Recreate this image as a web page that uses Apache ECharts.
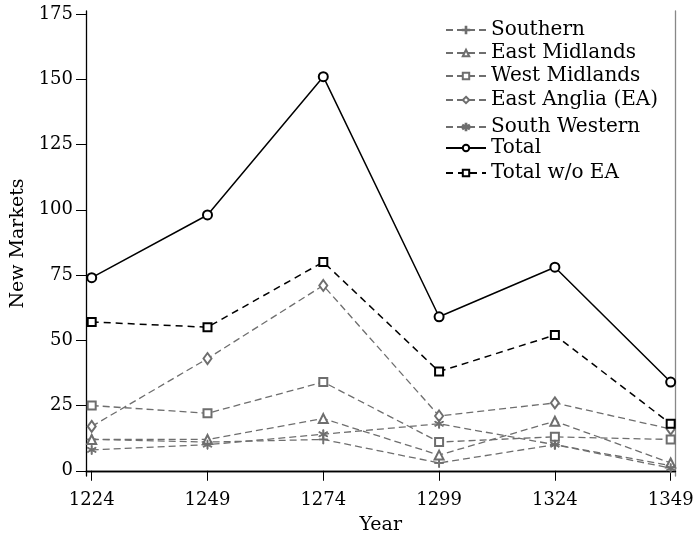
<!DOCTYPE html>
<html><head><meta charset="utf-8">
<script src="https://cdn.jsdelivr.net/npm/echarts@6/dist/echarts.min.js"></script>
<style>html,body{margin:0;padding:0;background:#fff}#c{width:694px;height:538px}</style>
</head><body><div id="c"></div>
<script>
const years = [1224, 1249, 1274, 1299, 1324, 1349];
const southern = [12, 11, 12, 3, 10, 2];
const eastMidlands = [12, 12, 20, 6, 19, 3];
const westMidlands = [25, 22, 34, 11, 13, 12];
const eastAnglia = [17, 43, 71, 21, 26, 16];
const southWestern = [8, 10, 14, 18, 10, 1];
const total = [74, 98, 151, 59, 78, 34];
const totalWoEA = [57, 55, 80, 38, 52, 18];
const yTicks = [0, 25, 50, 75, 100, 125, 150, 175];
const seriesNames = ['Southern', 'East Midlands', 'West Midlands', 'East Anglia (EA)', 'South Western', 'Total', 'Total w/o EA'];

const FONT = 'DejaVu Serif';
const GRAY = '#6e6e6e';
const plusPath = 'path://M4.5,0H5.5V4.5H10V5.5H5.5V10H4.5V5.5H0V4.5H4.5Z';
const starPath = 'path://M4.5,0L5.5,0L5.5,10L4.5,10Z M0.42,2.93L0.92,2.07L9.58,7.07L9.08,7.93Z M0.92,7.93L0.42,7.07L9.08,2.07L9.58,2.93Z';

function pairs(vals){ return years.map((y,i)=>[y, vals[i]]); }

const regional = [
  {name: seriesNames[0], data: southern, symbol: plusPath, size: 9},
  {name: seriesNames[1], data: eastMidlands, symbol: 'emptyTriangle', size: 9},
  {name: seriesNames[2], data: westMidlands, symbol: 'emptyRect', size: 8},
  {name: seriesNames[3], data: eastAnglia, symbol: 'emptyDiamond', size: [8, 11]},
  {name: seriesNames[4], data: southWestern, symbol: starPath, size: 9}
];

const series = regional.map(r => ({
  name: r.name, type: 'line', data: pairs(r.data),
  symbol: r.symbol, symbolSize: r.size, showAllSymbol: true,
  itemStyle: {color: GRAY, borderColor: GRAY, borderWidth: 1},
  lineStyle: {color: GRAY, width: 1.3, type: [7, 4]},
  z: 2, animation: false
}));
series.push({
  name: seriesNames[5], type: 'line', data: pairs(total),
  symbol: 'emptyCircle', symbolSize: 9,
  itemStyle: {color: '#000', borderColor: '#000', borderWidth: 1.4},
  lineStyle: {color: '#000', width: 1.5, type: 'solid'}, z: 4, animation: false
});
series.push({
  name: seriesNames[6], type: 'line', data: pairs(totalWoEA),
  symbol: 'emptyRect', symbolSize: 8,
  itemStyle: {color: '#000', borderColor: '#000', borderWidth: 1.4},
  lineStyle: {color: '#000', width: 1.5, type: [7, 5]}, z: 3, animation: false
});

const legendCenters = [30, 53, 76, 100, 127, 148, 173];
const legends = seriesNames.map((n, i) => ({
  data: [n], left: 445, top: legendCenters[i] - 10, orient: 'vertical',
  padding: 0, itemGap: 0, itemWidth: 40, itemHeight: 8, selectedMode: false,
  textStyle: {fontFamily: FONT, fontSize: 20, lineHeight: 20, color: '#000'}
}));

const chart = echarts.init(document.getElementById('c'), null, {renderer: 'canvas'});
chart.setOption({
  backgroundColor: '#fff',
  animation: false,
  grid: {left: 86, right: 18.5, top: 11, bottom: 62, containLabel: false, outerBoundsMode: 'none'},
  legend: legends,
  xAxis: [{
    type: 'value', min: 1222.77, max: 1350.04, position: 'bottom',
    name: 'Year', nameLocation: 'middle', nameGap: 40,
    nameTextStyle: {fontFamily: FONT, fontSize: 19, color: '#000'},
    axisLine: {show: true, lineStyle: {color: '#000', width: 1.3}},
    axisTick: {show: true, inside: false, length: 10, customValues: years, lineStyle: {color: '#000'}},
    axisLabel: {customValues: years, margin: 15, fontFamily: FONT, fontSize: 18, color: '#000',
      formatter: v => String(v), hideOverlap: false, showMinLabel: true, showMaxLabel: true},
    splitLine: {show: false}
  }, {
    type: 'value', min: 1222.77, max: 1350.04, position: 'top',
    axisLine: {show: true, lineStyle: {color: '#000', width: 1.3}},
    axisTick: {show: false}, axisLabel: {show: false}, splitLine: {show: false}
  }],
  yAxis: [{
    type: 'value', min: -2, max: 176.15, position: 'left',
    name: 'New Markets', nameLocation: 'middle', nameGap: 52,
    nameTextStyle: {fontFamily: FONT, fontSize: 19, color: '#000'},
    axisLine: {show: true, lineStyle: {color: '#000', width: 1.3}},
    axisTick: {show: true, inside: false, length: 10, customValues: yTicks, lineStyle: {color: '#000'}},
    axisLabel: {customValues: yTicks, margin: 13, fontFamily: FONT, fontSize: 18, color: '#000',
      formatter: v => String(v)},
    splitLine: {show: false}
  }, {
    type: 'value', min: -2, max: 176.15, position: 'right',
    axisLine: {show: true, lineStyle: {color: '#888', width: 1.3}},
    axisTick: {show: false}, axisLabel: {show: false}, splitLine: {show: false}
  }],
  series: series
});
</script>
</body></html>
